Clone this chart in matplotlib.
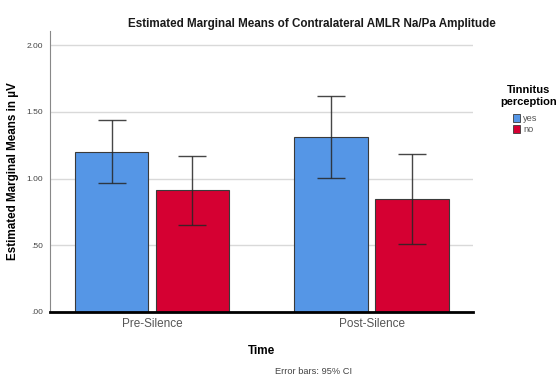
import matplotlib
matplotlib.use("Agg")
import matplotlib.pyplot as plt
import numpy as np
from matplotlib.patches import Patch

plt.rcParams['font.family'] = ['Liberation Sans', 'DejaVu Sans']

categories = ["Pre-Silence", "Post-Silence"]
groups = ["yes", "no"]
means_yes = [1.20, 1.31]
means_no = [0.915, 0.85]
ci_low_yes = [0.965, 1.005]
ci_high_yes = [1.435, 1.615]
ci_low_no = [0.655, 0.51]
ci_high_no = [1.172, 1.185]
yticks = [0.0, 0.5, 1.0, 1.5, 2.0]
ytick_labels = [".00", ".50", "1.00", "1.50", "2.00"]

col_yes = "#5596E6"
col_no = "#D50032"

fig = plt.figure(figsize=(5.6, 3.79), dpi=100)
ax = fig.add_axes([50/560, 1-312/379, 423/560, 281/379])

x = np.arange(len(categories))
w = 0.333
off = 0.1845

def draw(vals, lo, hi, xs, color):
    vals = np.array(vals); lo = np.array(lo); hi = np.array(hi)
    ax.bar(xs, vals, width=w, color=color, edgecolor="#3a3a3a", linewidth=0.8, zorder=3)
    ax.errorbar(xs, vals, yerr=[vals-lo, hi-vals], fmt='none', ecolor="#262626",
                elinewidth=1.0, capsize=10, capthick=1.0, zorder=4, alpha=0.85)

draw(means_yes, ci_low_yes, ci_high_yes, x-off, col_yes)
draw(means_no, ci_low_no, ci_high_no, x+off, col_no)

ax.set_xlim(-0.4647, 1.4624)
ax.set_ylim(0, 2.105)
ax.set_yticks(yticks)
ax.set_yticklabels(ytick_labels, fontsize=6, color="#444444")
ax.set_xticks(x)
ax.set_xticklabels(categories, fontsize=8.5, color="#555555")
ax.tick_params(axis='both', length=0)
ax.tick_params(axis='y', pad=5)
ax.tick_params(axis='x', pad=4)
ax.yaxis.grid(True, color="#d9d9d9", linewidth=1.0, zorder=0)
ax.set_axisbelow(True)
for s in ["top", "right"]:
    ax.spines[s].set_visible(False)
ax.spines["left"].set_color("#888888")
ax.spines["left"].set_linewidth(0.8)
ax.spines["bottom"].set_color("black")
ax.spines["bottom"].set_linewidth(2.0)
ax.spines["bottom"].set_zorder(5)

ax.set_ylabel("Estimated Marginal Means in µV", fontsize=8.4, fontweight="bold", labelpad=5)
ax.set_xlabel("Time", fontsize=8.5, fontweight="bold", labelpad=11)

fig.text(312/560, 1-24/379, "Estimated Marginal Means of Contralateral AMLR Na/Pa Amplitude",
         ha="center", va="center", fontsize=8.4, fontweight="bold", color="#1a1a1a")
fig.text(314/560, 1-372/379, "Error bars: 95% CI", ha="center", va="center",
         fontsize=6.7, color="#444444")

fig.text(529/560, 1-90/379, "Tinnitus", ha="center", va="center", fontsize=8, fontweight="bold")
fig.text(529/560, 1-102/379, "perception", ha="center", va="center", fontsize=8, fontweight="bold")
handles = [Patch(facecolor=col_yes, edgecolor="#3a3a3a", linewidth=0.6),
           Patch(facecolor=col_no, edgecolor="#3a3a3a", linewidth=0.6)]
leg = fig.legend(handles, groups, loc="upper left", bbox_to_anchor=(513/560, 1-114/379),
                 frameon=False, fontsize=6.6, handlelength=0.8, handleheight=1.0,
                 handletextpad=0.3, labelspacing=0.2, borderpad=0, borderaxespad=0)
for t in leg.get_texts():
    t.set_color("#555555")

fig.savefig("out.png", dpi=100)
